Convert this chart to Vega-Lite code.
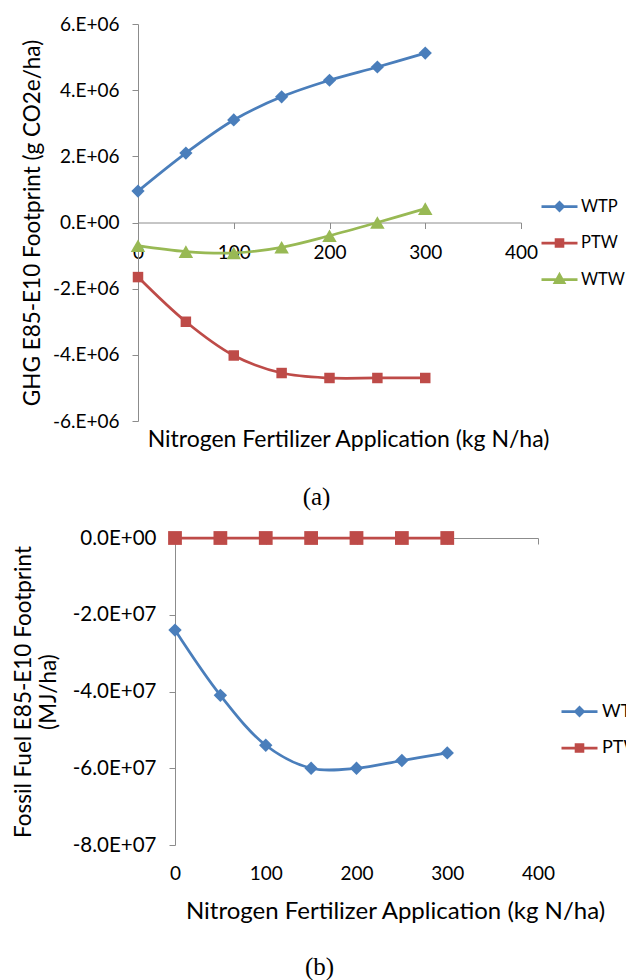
{
  "$schema": "https://vega.github.io/schema/vega-lite/v6.json",
  "background": "white",
  "padding": {"left": 0, "top": 15, "right": 0, "bottom": 0},
  "datasets": {
    "ghg": [
      {"n": 0, "series": "WTP", "v": 950000},
      {"n": 50, "series": "WTP", "v": 2100000},
      {"n": 100, "series": "WTP", "v": 3100000},
      {"n": 150, "series": "WTP", "v": 3800000},
      {"n": 200, "series": "WTP", "v": 4300000},
      {"n": 250, "series": "WTP", "v": 4700000},
      {"n": 300, "series": "WTP", "v": 5120000},
      {"n": 0, "series": "PTW", "v": -1650000},
      {"n": 50, "series": "PTW", "v": -3000000},
      {"n": 100, "series": "PTW", "v": -4020000},
      {"n": 150, "series": "PTW", "v": -4550000},
      {"n": 200, "series": "PTW", "v": -4700000},
      {"n": 250, "series": "PTW", "v": -4700000},
      {"n": 300, "series": "PTW", "v": -4700000},
      {"n": 0, "series": "WTW", "v": -700000},
      {"n": 50, "series": "WTW", "v": -880000},
      {"n": 100, "series": "WTW", "v": -920000},
      {"n": 150, "series": "WTW", "v": -750000},
      {"n": 200, "series": "WTW", "v": -400000},
      {"n": 250, "series": "WTW", "v": 0},
      {"n": 300, "series": "WTW", "v": 420000}
    ],
    "fossil": [
      {"n": 0, "series": "WTP", "v": -24000000},
      {"n": 50, "series": "WTP", "v": -41000000},
      {"n": 100, "series": "WTP", "v": -54000000},
      {"n": 150, "series": "WTP", "v": -60000000},
      {"n": 200, "series": "WTP", "v": -60000000},
      {"n": 250, "series": "WTP", "v": -58000000},
      {"n": 300, "series": "WTP", "v": -56000000},
      {"n": 0, "series": "PTW", "v": 0},
      {"n": 50, "series": "PTW", "v": 0},
      {"n": 100, "series": "PTW", "v": 0},
      {"n": 150, "series": "PTW", "v": 0},
      {"n": 200, "series": "PTW", "v": 0},
      {"n": 250, "series": "PTW", "v": 0},
      {"n": 300, "series": "PTW", "v": 0}
    ]
  },
  "columns": 1,
  "align": "none",
  "spacing": 18,
  "concat": [
    {
      "spacing": 0,
      "resolve": {
        "scale": {"color": "independent", "shape": "independent"},
        "legend": {"color": "independent", "shape": "independent"}
      },
      "hconcat": [
        {"width": 20, "height": 10, "data": {"values": []}, "mark": {"type": "point", "opacity": 0}},
        {
          "width": 383,
          "height": 397,
          "data": {"name": "ghg"},
          "title": {"text": "(a)", "orient": "bottom", "frame": "group", "anchor": "middle", "dx": -13, "offset": 33, "font": "Liberation Serif", "fontSize": 25, "fontWeight": "normal", "color": "#000"},
          "encoding": {
            "x": {
              "field": "n", "type": "quantitative",
              "scale": {"domain": [0, 400], "nice": false},
              "axis": {"title": "Nitrogen Fertilizer Application (kg N/ha)", "titleFontSize": 23, "values": [0, 100, 200, 300, 400], "offset": -198.5, "labelPadding": 15, "titleX": 210, "titleY": 224, "titleAlign": "center", "titleBaseline": "alphabetic"}
            },
            "y": {
              "field": "v", "type": "quantitative",
              "scale": {"domain": [-6000000, 6000000], "nice": false},
              "axis": {"title": "GHG E85-E10 Footprint (g CO2e/ha)", "titleFontSize": 22.5, "values": [-6000000, -4000000, -2000000, 0, 2000000, 4000000, 6000000], "labelExpr": "datum.value == 0 ? '0.E+00' : (datum.value / 1000000) + '.E+06'", "labelPadding": 13, "titleX": -106, "titleBaseline": "middle"}
            },
            "color": {
              "field": "series", "type": "nominal",
              "scale": {"domain": ["WTP", "PTW", "WTW"], "range": ["#4A7EBB", "#BE4B48", "#98B954"]},
              "legend": {"title": null, "orient": "none", "legendX": 402, "legendY": 163, "padding": 0, "rowPadding": 7.5, "symbolSize": 1296, "symbolStrokeWidth": 2.75, "symbolOpacity": 1, "labelOffset": 2, "labelFontSize": 16.5, "labelFont": "Lato", "labelColor": "#000"}
            }
          },
          "layer": [
            {"mark": {"type": "line", "interpolate": "catmull-rom", "strokeWidth": 2.75}},
            {
              "mark": {"type": "point", "filled": true, "opacity": 0},
              "encoding": {
                "shape": {
                  "field": "series", "type": "nominal",
                  "scale": {"domain": ["WTP", "PTW", "WTW"], "range": ["M-1,0L1,0M-0.22,0L0,-0.22L0.22,0L0,0.22Z", "M-1,0L1,0M-0.19,-0.19L0.19,-0.19L0.19,0.19L-0.19,0.19Z", "M-1,0L1,0M0,-0.27L0.25,0.18L-0.25,0.18Z"]},
                  "legend": {"title": null, "orient": "none", "legendX": 402, "legendY": 163, "padding": 0, "rowPadding": 7.5, "symbolSize": 1296, "symbolStrokeWidth": 2.75, "symbolOpacity": 1, "labelOffset": 2, "labelFontSize": 16.5, "labelFont": "Lato", "labelColor": "#000"}
                }
              }
            },
            {
              "transform": [{"filter": "datum.series === 'WTP'"}],
              "mark": {"type": "point", "shape": "diamond", "size": 175, "filled": true, "opacity": 1},
              "encoding": {"color": {"field": "series", "type": "nominal", "legend": null}}
            },
            {
              "transform": [{"filter": "datum.series === 'PTW'"}],
              "mark": {"type": "point", "shape": "square", "size": 110, "filled": true, "opacity": 1},
              "encoding": {"color": {"field": "series", "type": "nominal", "legend": null}}
            },
            {
              "transform": [{"filter": "datum.series === 'WTW'"}],
              "mark": {"type": "point", "shape": "triangle-up", "size": 210, "filled": true, "opacity": 1},
              "encoding": {"color": {"field": "series", "type": "nominal", "legend": null}}
            }
          ]
        }
      ]
    },
    {
      "spacing": 0,
      "resolve": {
        "scale": {"color": "independent", "shape": "independent"},
        "legend": {"color": "independent", "shape": "independent"}
      },
      "hconcat": [
        {"width": 11, "height": 10, "data": {"values": []}, "mark": {"type": "point", "opacity": 0}},
        {
          "width": 363,
          "height": 307,
          "data": {"name": "fossil"},
          "title": {"text": "(b)", "orient": "bottom", "frame": "group", "anchor": "middle", "dx": -37, "offset": 32, "font": "Liberation Serif", "fontSize": 25, "fontWeight": "normal", "color": "#000"},
          "encoding": {
            "x": {
              "field": "n", "type": "quantitative",
              "scale": {"domain": [0, 400], "nice": false},
              "axis": {"title": "Nitrogen Fertilizer Application (kg N/ha)", "titleFontSize": 24, "values": [0, 100, 200, 300, 400], "offset": -307, "labelPadding": 320, "titleX": 220, "titleY": 380, "titleAlign": "center", "titleBaseline": "alphabetic"}
            },
            "y": {
              "field": "v", "type": "quantitative",
              "scale": {"domain": [-80000000, 0], "nice": false},
              "axis": {"title": ["Fossil Fuel E85-E10 Footprint", "(MJ/ha)"], "titleFontSize": 22.5, "titleLineHeight": 25, "labelFontSize": 20.5, "values": [-80000000, -60000000, -40000000, -20000000, 0], "labelExpr": "datum.value == 0 ? '0.0E+00' : (datum.value / 10000000) + '.0E+07'", "labelPadding": 13, "titleX": -152, "titleBaseline": "middle"}
            },
            "color": {
              "field": "series", "type": "nominal",
              "scale": {"domain": ["WTP", "PTW"], "range": ["#4A7EBB", "#BE4B48"]},
              "legend": {"title": null, "orient": "none", "legendX": 385, "legendY": 154, "padding": 0, "rowPadding": 7.5, "symbolSize": 1296, "symbolStrokeWidth": 2.75, "symbolOpacity": 1, "labelOffset": 3, "labelFontSize": 18, "labelFont": "Lato", "labelColor": "#000"}
            }
          },
          "layer": [
            {"mark": {"type": "line", "interpolate": "catmull-rom", "strokeWidth": 2.75}},
            {
              "mark": {"type": "point", "filled": true, "opacity": 0},
              "encoding": {
                "shape": {
                  "field": "series", "type": "nominal",
                  "scale": {"domain": ["WTP", "PTW"], "range": ["M-1,0L1,0M-0.22,0L0,-0.22L0.22,0L0,0.22Z", "M-1,0L1,0M-0.19,-0.19L0.19,-0.19L0.19,0.19L-0.19,0.19Z"]},
                  "legend": {"title": null, "orient": "none", "legendX": 385, "legendY": 154, "padding": 0, "rowPadding": 7.5, "symbolSize": 1296, "symbolStrokeWidth": 2.75, "symbolOpacity": 1, "labelOffset": 3, "labelFontSize": 18, "labelFont": "Lato", "labelColor": "#000"}
                }
              }
            },
            {
              "transform": [{"filter": "datum.series === 'WTP'"}],
              "mark": {"type": "point", "shape": "diamond", "size": 180, "filled": true, "opacity": 1},
              "encoding": {"color": {"field": "series", "type": "nominal", "legend": null}}
            },
            {
              "transform": [{"filter": "datum.series === 'PTW'"}],
              "mark": {"type": "point", "shape": "square", "size": 190, "filled": true, "opacity": 1},
              "encoding": {"color": {"field": "series", "type": "nominal", "legend": null}}
            }
          ]
        }
      ]
    }
  ],
  "resolve": {
    "scale": {"color": "independent", "shape": "independent", "x": "independent", "y": "independent"},
    "legend": {"color": "independent", "shape": "independent"}
  },
  "config": {
    "view": {"stroke": null},
    "font": "Lato",
    "axis": {
      "labelFont": "Lato", "titleFont": "Lato", "labelFontSize": 19, "titleFontSize": 19, "titleFontWeight": "normal",
      "labelColor": "#000", "titleColor": "#000", "domainColor": "#8c8c8c", "tickColor": "#8c8c8c",
      "domainWidth": 1, "tickWidth": 1, "tickSize": 6, "grid": false, "labelFlush": false, "labelOverlap": false, "labelBound": false
    }
  }
}
